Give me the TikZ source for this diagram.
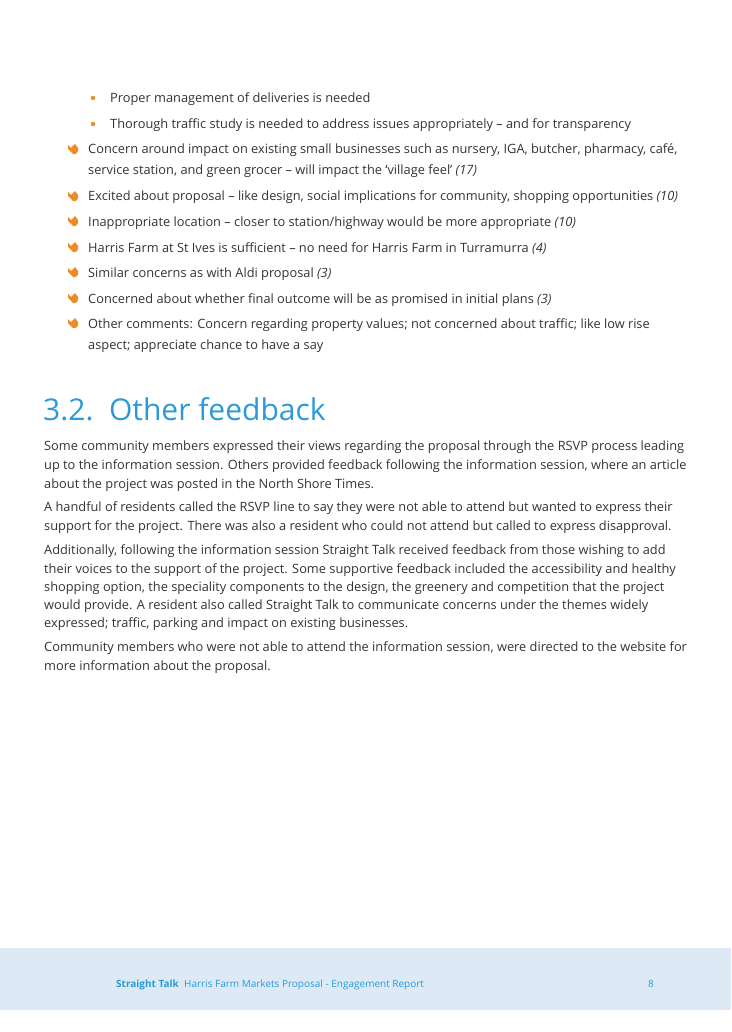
\documentclass[tikz,border=0pt]{standalone}
\usepackage{fontspec}
\setmainfont{Open Sans}
\definecolor{txt}{HTML}{333333}
\definecolor{org}{HTML}{F08A24}
\definecolor{blu}{HTML}{2A9BD8}
\definecolor{band}{HTML}{DDEAF6}
\begin{document}
\begin{tikzpicture}[x=1pt,y=-1pt,
  ln/.style={anchor=base west,inner sep=0pt,text=txt,font=\fontsize{12.8}{14}\selectfont},
  dot/.style={circle,fill=org,inner sep=0pt,minimum size=4.5pt}]
\useasboundingbox (0,0) rectangle (731,1032);
\fill[band] (0,948) rectangle (731,1010);
\newcommand\icon[1]{\fill[org] (68,#1-4) -- (71,#1-1) -- (75,#1-5) -- (78,#1-1) .. controls (79,#1+3) and (76,#1+6) .. (73,#1+5) -- (68,#1) -- cycle;}
\node[dot] (d1) at (93,98) {};
\node[dot] (d2) at (93,124) {};
\node[ln] (t1) at (110,103) {Proper management of deliveries is needed};
\node[ln] (t2) at (110,129) {Thorough traffic study is needed to address issues appropriately – and for transparency};
\icon{149}\icon{196}\icon{221}\icon{247}\icon{272}\icon{298}\icon{323}
\node[ln] (a1) at (88,154) {Concern around impact on existing small businesses such as nursery, IGA, butcher, pharmacy, café,};
\node[ln] (a2) at (88,175) {service station, and green grocer – will impact the ‘village feel’ \textit{(17)}};
\node[ln] (b) at (88,201) {Excited about proposal – like design, social implications for community, shopping opportunities \textit{(10)}};
\node[ln] (c) at (88,226) {Inappropriate location – closer to station/highway would be more appropriate \textit{(10)}};
\node[ln] (d) at (88,252) {Harris Farm at St Ives is sufficient – no need for Harris Farm in Turramurra \textit{(4)}};
\node[ln] (e) at (88,277) {Similar concerns as with Aldi proposal \textit{(3)}};
\node[ln] (f) at (88,303) {Concerned about whether final outcome will be as promised in initial plans \textit{(3)}};
\node[ln] (g1) at (88,328) {Other comments: Concern regarding property values; not concerned about traffic; like low rise};
\node[ln] (g2) at (88,349) {aspect; appreciate chance to have a say};
\node[anchor=base west,inner sep=0pt,text=blu,font=\fontsize{30}{34}\selectfont] (h) at (43,420) {3.2.\ \ Other feedback};
\node[ln] (p1) at (44,450) {Some community members expressed their views regarding the proposal through the RSVP process leading};
\node[ln] (p2) at (44,469) {up to the information session. Others provided feedback following the information session, where an article};
\node[ln] (p3) at (44,488) {about the project was posted in the North Shore Times.};
\node[ln] (q1) at (44,511) {A handful of residents called the RSVP line to say they were not able to attend but wanted to express their};
\node[ln] (q2) at (44,530) {support for the project. There was also a resident who could not attend but called to express disapproval.};
\node[ln] (r1) at (44,554) {Additionally, following the information session Straight Talk received feedback from those wishing to add};
\node[ln] (r2) at (44,573) {their voices to the support of the project. Some supportive feedback included the accessibility and healthy};
\node[ln] (r3) at (44,591) {shopping option, the speciality components to the design, the greenery and competition that the project};
\node[ln] (r4) at (44,609) {would provide. A resident also called Straight Talk to communicate concerns under the themes widely};
\node[ln] (r5) at (44,627) {expressed; traffic, parking and impact on existing businesses.};
\node[ln] (s1) at (44,651) {Community members who were not able to attend the information session, were directed to the website for};
\node[ln] (s2) at (44,670) {more information about the proposal.};
\node[anchor=base west,inner sep=0pt,text=blu,font=\fontsize{10}{11}\selectfont] (ft) at (116,987) {\textbf{Straight Talk}\ \ Harris Farm Markets Proposal - Engagement Report};
\node[anchor=base west,inner sep=0pt,text=blu,font=\fontsize{10}{11}\selectfont] (pg) at (648,987) {8};
\end{tikzpicture}
\end{document}
